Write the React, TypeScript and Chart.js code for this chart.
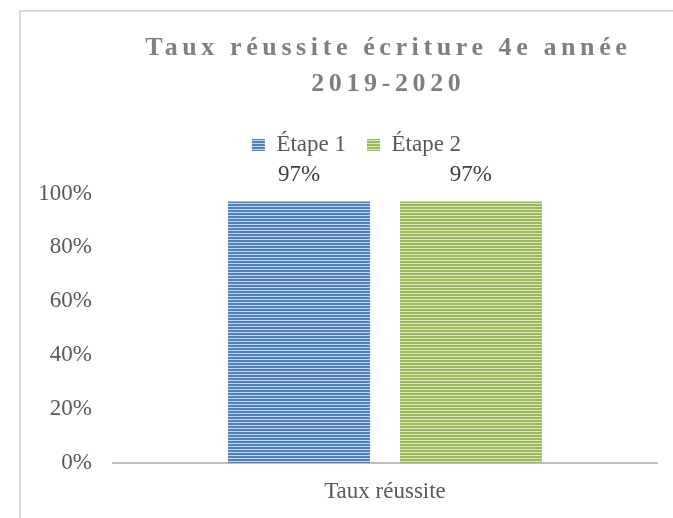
import React, { useEffect, useRef } from 'react';
import { Chart, registerables } from 'chart.js';

Chart.register(...registerables);

const TITLE_LINES = ['Taux réussite écriture 4e année', '2019-2020'];
const CATEGORIES = ['Taux réussite'];
const SERIES_NAMES = ['Étape 1', 'Étape 2'];
const ETAPE1 = [97];
const ETAPE2 = [97];
const Y_TICKS = [0, 20, 40, 60, 80, 100];

const FONT = "'Liberation Serif', 'Times New Roman', serif";

function stripes(dark: string, light: string) {
  const c = document.createElement('canvas');
  c.width = 4;
  c.height = 3;
  const g = c.getContext('2d')!;
  g.fillStyle = light;
  g.fillRect(0, 0, 4, 3);
  g.fillStyle = dark;
  g.fillRect(0, 0, 4, 2);
  return g.createPattern(c, 'repeat')!;
}

const titlePlugin = {
  id: 'spacedTitle',
  afterDraw(chart: any) {
    const ctx = chart.ctx;
    ctx.save();
    ctx.fillStyle = '#7f7f7f';
    ctx.font = `bold 26px ${FONT}`;
    ctx.textAlign = 'center';
    ctx.textBaseline = 'alphabetic';
    const sp = 4.6;
    (ctx as any).letterSpacing = sp + 'px';
    const cx = 386 + sp / 2;
    ctx.fillText(TITLE_LINES[0], cx, 55);
    ctx.fillText(TITLE_LINES[1], cx, 91);
    ctx.restore();
  },
};

const labelPlugin = {
  id: 'valueLabels',
  afterDatasetsDraw(chart: any) {
    const ctx = chart.ctx;
    ctx.save();
    ctx.fillStyle = '#404040';
    ctx.font = `23px ${FONT}`;
    ctx.textAlign = 'center';
    ctx.textBaseline = 'middle';
    chart.data.datasets.forEach((ds: any, i: number) => {
      const meta = chart.getDatasetMeta(i);
      meta.data.forEach((el: any, j: number) => {
        ctx.fillText(ds.data[j] + '%', el.x, el.y - 27);
      });
    });
    ctx.restore();
  },
};

export default function App() {
  const ref = useRef<HTMLCanvasElement>(null);
  useEffect(() => {
    const canvas = ref.current!;
    const blue = stripes('#4f81bd', '#c4d5eb');
    const green = stripes('#9bbb59', '#dbe7c5');
    const chart = new Chart(canvas, {
      type: 'bar',
      data: {
        labels: CATEGORIES,
        datasets: [
          { label: SERIES_NAMES[0], data: ETAPE1, backgroundColor: blue, borderWidth: 0 },
          { label: SERIES_NAMES[1], data: ETAPE2, backgroundColor: green, borderWidth: 0 },
        ],
      },
      options: {
        responsive: false,
        animation: false,
        devicePixelRatio: 1,
        categoryPercentage: 0.632,
        barPercentage: 0.826,
        layout: { padding: { left: 20, right: -20, top: 112.5, bottom: 0 } },
        plugins: {
          title: { display: false },
          tooltip: { enabled: false },
          legend: {
            display: true,
            position: 'top',
            labels: {
              boxWidth: 13,
              boxHeight: 12,
              padding: 21,
              color: '#595959',
              font: { family: FONT, size: 23 },
            },
          },
        },
        scales: {
          x: {
            grid: { display: false, drawTicks: false },
            border: { display: true, color: '#bfbfbf', width: 2 },
            ticks: { color: '#595959', font: { family: FONT, size: 23 }, padding: 15 },
            afterFit: (s: any) => { s.height = 55; },
          },
          y: {
            min: 0,
            max: 110,
            grid: { display: false, drawTicks: false },
            border: { display: false },
            ticks: {
              color: '#595959',
              font: { family: FONT, size: 23 },
              padding: 21,
              callback: (v: any) => v + '%',
            },
            afterBuildTicks: (s: any) => { s.ticks = Y_TICKS.map((v) => ({ value: v })); },
            afterFit: (s: any) => { s.width = 93; },
          },
          yRight: {
            position: 'right',
            display: true,
            grid: { display: false, drawTicks: false },
            border: { display: false },
            ticks: { display: false },
            afterFit: (s: any) => { s.width = 36; },
          },
        },
      },
      plugins: [titlePlugin, labelPlugin],
    } as any);
    return () => chart.destroy();
  }, []);

  return (
    <div style={{ position: 'fixed', left: 0, top: 0, width: 673, height: 518, overflow: 'hidden', background: '#fff' }}>
      <div style={{ position: 'absolute', left: 19, top: 10, width: 720, height: 600, border: '2px solid #d9d9d9', boxSizing: 'border-box' }} />
      <canvas ref={ref} width={673} height={518} style={{ position: 'absolute', left: 0, top: 0 }} />
    </div>
  );
}
